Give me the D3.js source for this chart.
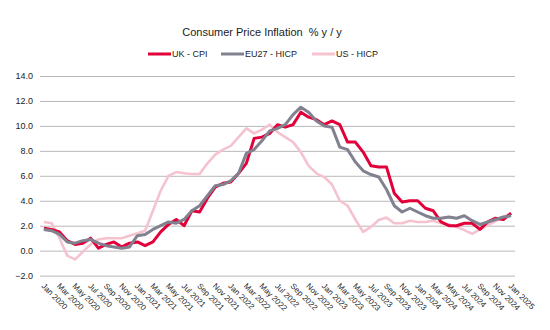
<!DOCTYPE html>
<html lang="en">

<head>
	<meta charset="UTF-8">
	<title>Consumer Price Inflation</title>
	<script type="text/javascript" src="https://cdn.jsdelivr.net/npm/d3@7/dist/d3.min.js" charset="UTF-8"></script>
	<style>
		body { margin: 0; background: #fff; }
		svg text { font-family: "Liberation Sans", Arial, sans-serif; fill: #222; }
	</style>
</head>

<body>
	<script>
	// monthly categories, Jan 2020 .. Jan 2025
	var months = [
		'Jan 2020', 'Feb 2020', 'Mar 2020', 'Apr 2020', 'May 2020', 'Jun 2020', 'Jul 2020', 'Aug 2020', 'Sep 2020', 'Oct 2020', 'Nov 2020', 'Dec 2020',
		'Jan 2021', 'Feb 2021', 'Mar 2021', 'Apr 2021', 'May 2021', 'Jun 2021', 'Jul 2021', 'Aug 2021', 'Sep 2021', 'Oct 2021', 'Nov 2021', 'Dec 2021',
		'Jan 2022', 'Feb 2022', 'Mar 2022', 'Apr 2022', 'May 2022', 'Jun 2022', 'Jul 2022', 'Aug 2022', 'Sep 2022', 'Oct 2022', 'Nov 2022', 'Dec 2022',
		'Jan 2023', 'Feb 2023', 'Mar 2023', 'Apr 2023', 'May 2023', 'Jun 2023', 'Jul 2023', 'Aug 2023', 'Sep 2023', 'Oct 2023', 'Nov 2023', 'Dec 2023',
		'Jan 2024', 'Feb 2024', 'Mar 2024', 'Apr 2024', 'May 2024', 'Jun 2024', 'Jul 2024', 'Aug 2024', 'Sep 2024', 'Oct 2024', 'Nov 2024', 'Dec 2024',
		'Jan 2025'
	];

	var ukCpi = [
		1.8, 1.7, 1.5, 0.8, 0.5, 0.6, 1.0, 0.2, 0.5, 0.7, 0.3, 0.6,
		0.7, 0.4, 0.7, 1.5, 2.1, 2.5, 2.0, 3.2, 3.1, 4.2, 5.1, 5.4,
		5.5, 6.2, 7.0, 9.0, 9.1, 9.4, 10.1, 9.9, 10.1, 11.1, 10.7, 10.5,
		10.1, 10.4, 10.1, 8.7, 8.7, 7.9, 6.8, 6.7, 6.7, 4.6, 3.9, 4.0,
		4.0, 3.4, 3.2, 2.3, 2.0, 2.0, 2.2, 2.2, 1.7, 2.3, 2.6, 2.5,
		3.0
	];

	var eu27Hicp = [
		1.7, 1.6, 1.3, 0.7, 0.6, 0.8, 0.9, 0.6, 0.4, 0.3, 0.2, 0.3,
		1.2, 1.3, 1.7, 2.0, 2.3, 2.2, 2.5, 3.2, 3.6, 4.4, 5.2, 5.3,
		5.6, 6.2, 7.8, 8.1, 8.8, 9.6, 9.8, 10.1, 10.9, 11.5, 11.1, 10.4,
		10.0, 9.9, 8.3, 8.1, 7.1, 6.4, 6.1, 5.9, 4.9, 3.6, 3.1, 3.4,
		3.1, 2.8, 2.6, 2.6, 2.7, 2.6, 2.8, 2.4, 2.1, 2.3, 2.5, 2.7,
		2.8
	];

	var usHicp = [
		2.3, 2.2, 1.0, -0.4, -0.7, -0.1, 0.5, 0.9, 1.0, 1.0, 1.0, 1.2,
		1.4, 1.6, 3.2, 4.8, 6.0, 6.3, 6.2, 6.15, 6.15, 7.0, 7.7, 8.1,
		8.4, 9.1, 9.8, 9.4, 9.7, 10.1, 9.5, 9.1, 8.7, 7.9, 6.8, 6.2,
		5.9, 5.3, 4.0, 3.6, 2.5, 1.5, 1.9, 2.45, 2.65, 2.2, 2.2, 2.4,
		2.3, 2.3, 2.4, 2.2, 2.1, 1.9, 1.65, 1.35, 1.7, 2.05, 2.35, 2.7,
		3.0
	];

	var yTicks = [-2, 0, 2, 4, 6, 8, 10, 12, 14];
	var xTickLabels = months.filter((m, i) => i % 2 === 0);

	var seriesNames = ['UK - CPI', 'EU27 - HICP', 'US - HICP'];
	var seriesColors = ['#e2003a', '#81818f', '#f5c3cf'];

	var width = 550,
		height = 330;

	var plot = {
		left: 40,
		right: 515,
		top: 76,
		bottom: 275.6
	};

	var svg = d3.select('body').append('svg')
		.attr('width', width)
		.attr('height', height);

	var xScale = d3.scaleBand()
		.domain(months)
		.range([plot.left, plot.right]);

	var yScale = d3.scaleLinear()
		.domain([-2, 14])
		.range([plot.bottom, plot.top]);

	function drawAxis() {
		var yAxis = d3.axisLeft(yScale)
			.tickValues(yTicks)
			.tickFormat(d3.format('.1f'))
			.tickSize(-(plot.right - plot.left))
			.tickPadding(7);

		var gy = svg.append('g')
			.attr('transform', `translate(${plot.left},0)`)
			.call(yAxis);
		gy.select('.domain').remove();
		gy.selectAll('line').attr('stroke', '#b9b9b9');
		gy.selectAll('text').style('font-size', '9px');

		var xAxis = d3.axisBottom(xScale)
			.tickValues(xTickLabels)
			.tickSize(0);

		var gx = svg.append('g')
			.attr('transform', `translate(0,${plot.bottom})`)
			.call(xAxis);
		gx.select('.domain').remove();
		gx.selectAll('text')
			.style('font-size', '8px')
			.style('text-anchor', 'start')
			.attr('x', 0)
			.attr('y', 0)
			.attr('dy', '0.35em')
			.attr('transform', 'translate(-1,9) rotate(45)');
	}

	function drawLines() {
		var line = d3.line()
			.x((d, i) => xScale(months[i]) + xScale.bandwidth() / 2)
			.y(d => yScale(d));

		var data = [
			{ values: usHicp, color: seriesColors[2], w: 2.6 },
			{ values: ukCpi, color: seriesColors[0], w: 3 },
			{ values: eu27Hicp, color: seriesColors[1], w: 3 }
		];

		svg.append('g').selectAll('path')
			.data(data)
			.enter()
			.append('path')
			.attr('fill', 'none')
			.attr('stroke', d => d.color)
			.attr('stroke-width', d => d.w)
			.attr('stroke-linejoin', 'round')
			.attr('d', d => line(d.values));
	}

	function drawTitle() {
		svg.append('text')
			.attr('x', 262)
			.attr('y', 35.5)
			.attr('text-anchor', 'middle')
			.style('font-size', '11px')
			.style('white-space', 'pre')
			.text('Consumer Price Inflation  % y / y');

		var legendX = [148, 221, 312];
		var legend = svg.append('g').selectAll('g')
			.data(seriesNames)
			.enter()
			.append('g')
			.attr('transform', (d, i) => `translate(${legendX[i]},54)`);

		legend.append('line')
			.attr('x1', 0)
			.attr('x2', 23)
			.attr('stroke', (d, i) => seriesColors[i])
			.attr('stroke-width', 3);

		legend.append('text')
			.attr('x', 24)
			.attr('y', 3)
			.style('font-size', '9px')
			.text(d => d);
	}

	drawAxis();
	drawLines();
	drawTitle();
	</script>

</body>

</html>
